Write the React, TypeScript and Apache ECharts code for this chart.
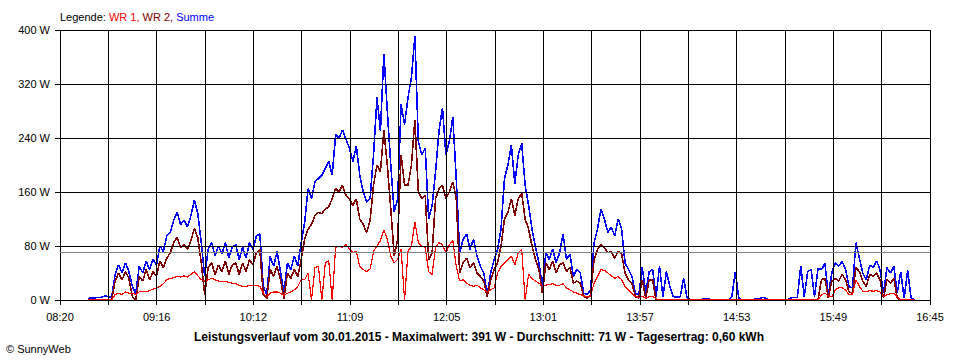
import React, { useEffect, useRef } from "react";
import * as echarts from "echarts";

// minutes after 08:20 of the first sample, and sample spacing in minutes
const START_MIN = 16;
const STEP_MIN = 2;
const SPAN_MIN = 505; // 08:20 .. 16:45
const GRID_STEPS = 18;

const TICK_LABELS = ["08:20", "09:16", "10:12", "11:09", "12:05", "13:01", "13:57", "14:53", "15:49", "16:45"];

const SUMME = [
  2, 3, 3, 4, 4, 6, 5, 4, 38, 52,
  40, 55, 42, 20, 10, 50, 40, 58, 45, 60,
  52, 80, 72, 95, 100, 118, 130, 112, 118, 108,
  125, 148, 128, 85, 35, 75, 85, 65, 80, 68,
  85, 62, 78, 82, 60, 78, 62, 85, 75, 95,
  98, 20, 8, 65, 50, 72, 42, 10, 55, 45,
  65, 50, 85, 115, 165, 150, 175, 180, 185, 195,
  205, 185, 245, 240, 252, 238, 225, 205, 228, 185,
  160, 145, 150, 215, 300, 250, 365, 280, 200, 130,
  150, 290, 260, 300, 330, 391, 235, 215, 225, 120,
  140, 190, 250, 285, 215, 235, 271, 180, 70, 90,
  98, 75, 90, 65, 50, 40, 8, 40, 60, 75,
  105, 180, 200, 230, 172, 215, 232, 170, 140, 105,
  78, 55, 20, 70, 60, 75, 55, 70, 98, 60,
  68, 35, 45, 40, 10, 8, 15, 85, 105, 135,
  120, 100, 108, 95, 120, 105, 55, 45, 35, 10,
  8, 48, 10, 42, 45, 5, 50, 5, 42, 20,
  5, 4, 5, 32, 3, 0, 0, 0, 0, 2,
  2, 0, 0, 0, 0, 0, 0, 5, 42, 3,
  0, 0, 0, 0, 2, 2, 4, 2, 0, 0,
  0, 0, 0, 0, 3, 4, 4, 50, 5, 42,
  45, 5, 47, 45, 54, 8, 40, 55, 50, 57,
  45, 20, 18, 85, 62, 40, 30, 52, 48, 58,
  45, 10, 48, 40, 50, 10, 42, 3, 44, 3,
  0,
];

const WR2 = [
  0, 0, 0, 0, 0, 0, 0, 0, 28, 40,
  30, 42, 32, 5, 0, 35, 28, 45, 30, 42,
  35, 58, 48, 62, 70, 85, 93, 78, 82, 75,
  88, 106, 92, 55, 8, 48, 55, 38, 52, 42,
  58, 38, 52, 55, 38, 55, 42, 60, 52, 70,
  75, 8, 2, 45, 35, 50, 30, 2, 40, 32,
  45, 35, 60, 90, 105, 112, 125, 130, 128, 135,
  138, 150, 165, 160, 170, 155, 150, 140, 150, 120,
  112, 100, 118, 170, 200, 190, 252, 200, 135, 65,
  90, 215, 170, 170, 200, 267, 160, 150, 155, 60,
  70, 150, 165, 170, 150, 160, 175, 150, 40, 55,
  62, 48, 55, 40, 35, 28, 5, 30, 45, 55,
  80, 120, 130, 150, 125, 150, 158, 120, 105, 80,
  60, 45, 10, 55, 45, 58, 40, 52, 55, 42,
  48, 25, 28, 25, 5, 3, 8, 60, 75, 82,
  78, 70, 72, 62, 72, 68, 40, 30, 25, 5,
  3, 30, 2, 30, 30, 0, 0, 0, 0, 0,
  0, 0, 0, 0, 0, 0, 0, 0, 0, 0,
  0, 0, 0, 0, 0, 0, 0, 0, 0, 0,
  0, 0, 0, 0, 0, 0, 0, 0, 0, 0,
  0, 0, 0, 0, 0, 0, 0, 0, 0, 0,
  0, 0, 0, 30, 32, 3, 28, 32, 28, 38,
  30, 12, 10, 48, 42, 28, 20, 38, 35, 40,
  30, 3, 30, 25, 32, 3, 0, 0, 0, 0,
  0,
];

const WR1 = [
  0, 0, 0, 0, 0, 0, 0, 0, 8, 10,
  8, 12, 10, 10, 8, 12, 13, 12, 14, 16,
  18, 20, 24, 30, 32, 33, 35, 34, 36, 34,
  38, 42, 36, 30, 28, 30, 32, 30, 28, 27,
  28, 26, 25, 24, 22, 20, 20, 22, 22, 22,
  20, 10, 5, 10, 12, 12, 10, 7, 10, 12,
  15, 20, 30, 30, 40, 0, 48, 50, 0, 55,
  58, 0, 78, 80, 78, 82, 76, 70, 72, 50,
  45, 42, 46, 72, 80, 88, 104, 90, 65, 55,
  60, 75, 0, 72, 80, 116, 85, 80, 78, 42,
  38, 78, 85, 82, 70, 82, 88, 50, 28, 30,
  25, 22, 20, 22, 18, 15, 12, 15, 18, 40,
  50, 55, 60, 65, 52, 70, 75, 0, 38, 32,
  28, 25, 22, 22, 23, 24, 22, 22, 24, 18,
  15, 12, 10, 8, 6, 5, 6, 25, 35, 45,
  44, 40, 36, 32, 35, 30, 20, 15, 10, 5,
  4, 5, 3, 5, 5, 2, 0, 0, 0, 0,
  0, 0, 0, 0, 0, 0, 0, 0, 0, 0,
  0, 0, 0, 0, 0, 0, 0, 0, 0, 0,
  0, 0, 0, 0, 0, 0, 0, 0, 0, 0,
  0, 0, 0, 0, 0, 0, 0, 0, 0, 0,
  0, 0, 0, 8, 10, 6, 5, 15, 18, 18,
  15, 8, 8, 30, 20, 13, 12, 14, 13, 14,
  12, 5, 8, 9, 10, 5, 0, 0, 0, 0,
  0,
];

const AVERAGE_W = 71;
const Y_MAX = 400;
const Y_STEP = 80;

const LEGEND_PREFIX = "Legende: ";
const SERIES_NAMES = ["WR 1", "WR 2", "Summe"];
const TITLE = "Leistungsverlauf vom 30.01.2015 - Maximalwert: 391 W - Durchschnitt: 71 W - Tagesertrag: 0,60 kWh";
const COPYRIGHT = "© SunnyWeb";

const FONT = "'Liberation Sans', Arial, sans-serif";

const toPoints = (arr: number[]) =>
  arr.map((v, i) => [((START_MIN + i * STEP_MIN) * GRID_STEPS) / SPAN_MIN, v]);

export default function App() {
  const ref = useRef<HTMLDivElement>(null);
  useEffect(() => {
    if (!ref.current) return;
    const chart = echarts.init(ref.current, null, { renderer: "svg" });
    const lineBase = {
      type: "line" as const,
      symbol: "none",
      showSymbol: false,
      silent: true,
      z: 2,
    };
    chart.setOption({
      animation: false,
      backgroundColor: "#ffffff",
      textStyle: { fontFamily: FONT, fontSize: 11, color: "#000" },
      grid: { left: 60, right: 30, top: 30, bottom: 60 },
      xAxis: {
        type: "value",
        min: 0,
        max: GRID_STEPS,
        interval: 1,
        z: 3,
        axisLine: { show: true, lineStyle: { color: "#000", width: 1 } },
        axisTick: { show: true, length: 5, lineStyle: { color: "#000", width: 1 } },
        axisLabel: {
          margin: 11,
          color: "#000",
          fontSize: 11,
          fontFamily: FONT,
          showMinLabel: true,
          showMaxLabel: true,
          formatter: (v: number) => {
            const i = Math.round(v);
            return i % 2 === 0 ? TICK_LABELS[i / 2] ?? "" : "";
          },
        },
        splitLine: { show: true, lineStyle: { color: "#000", width: 1 } },
      },
      yAxis: {
        type: "value",
        min: 0,
        max: Y_MAX,
        interval: Y_STEP,
        z: 3,
        axisLine: { show: true, lineStyle: { color: "#000", width: 1 } },
        axisTick: { show: true, length: 5, lineStyle: { color: "#000", width: 1 } },
        axisLabel: {
          margin: 10,
          color: "#000",
          fontSize: 11,
          fontFamily: FONT,
          formatter: "{value} W",
        },
        splitLine: { show: true, lineStyle: { color: "#000", width: 1 } },
      },
      series: [
        {
          ...lineBase,
          name: SERIES_NAMES[2],
          data: toPoints(SUMME),
          lineStyle: { color: "#0000ff", width: 1.6 },
        },
        {
          ...lineBase,
          name: SERIES_NAMES[1],
          data: toPoints(WR2),
          lineStyle: { color: "#800000", width: 1.6 },
        },
        {
          ...lineBase,
          name: SERIES_NAMES[0],
          data: toPoints(WR1),
          lineStyle: { color: "#ff0000", width: 1.2 },
          markLine: {
            silent: true,
            symbol: ["none", "none"],
            label: { show: false },
            lineStyle: { color: "#808080", width: 1, type: "solid" },
            data: [{ yAxis: AVERAGE_W }],
          },
        },
      ],
      graphic: [
        {
          type: "text",
          x: 60,
          y: 17,
          style: {
            text: `{k|${LEGEND_PREFIX}}{r|${SERIES_NAMES[0]}, }{m|${SERIES_NAMES[1]}, }{b|${SERIES_NAMES[2]}}`,
            textAlign: "left",
            textVerticalAlign: "middle",
            font: `11px ${FONT}`,
            rich: {
              k: { fill: "#000000", fontSize: 11, fontFamily: FONT },
              r: { fill: "#ff0000", fontSize: 11, fontFamily: FONT },
              m: { fill: "#800000", fontSize: 11, fontFamily: FONT },
              b: { fill: "#0000ff", fontSize: 11, fontFamily: FONT },
            },
          },
        },
        {
          type: "text",
          x: 479,
          y: 337,
          style: {
            text: TITLE,
            fill: "#000",
            textAlign: "center",
            textVerticalAlign: "middle",
            font: `bold 12px ${FONT}`,
          },
        },
        {
          type: "text",
          x: 6,
          y: 349,
          style: {
            text: COPYRIGHT,
            fill: "#000",
            textAlign: "left",
            textVerticalAlign: "middle",
            font: `11px ${FONT}`,
          },
        },
      ],
    });
    const svg = ref.current.querySelector("svg");
    if (svg) svg.setAttribute("shape-rendering", "crispEdges");
    return () => chart.dispose();
  }, []);
  return (
    <div
      ref={ref}
      style={{ position: "fixed", left: 0, top: 0, width: 960, height: 360, background: "#fff" }}
    />
  );
}
